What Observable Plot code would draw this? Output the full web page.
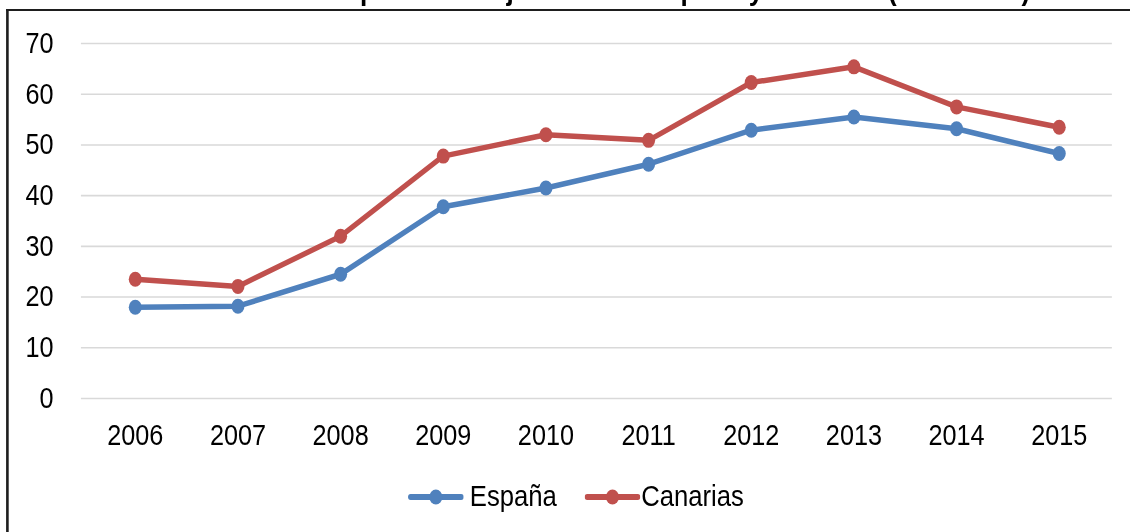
<!DOCTYPE html>
<html><head><meta charset="utf-8">
<script src="https://cdn.jsdelivr.net/npm/d3@7"></script>
<script src="https://cdn.jsdelivr.net/npm/@observablehq/plot@0.6"></script>
<style>
html,body{margin:0;padding:0;background:#fff;}
#page{position:relative;width:1130px;height:532px;overflow:hidden;background:#fff;}
#inner{position:absolute;left:0;top:0;width:1299px;height:532px;transform:scaleX(0.87);transform-origin:0 0;font-family:"Liberation Sans",Arial,sans-serif;}
#frame{position:absolute;left:7px;top:9px;width:1500px;height:700px;border-left:3px solid #1e1e1e;border-top:2px solid #1e1e1e;box-sizing:border-box;}
#title{position:absolute;left:296px;top:-25px;font-size:30px;line-height:30px;font-weight:bold;white-space:nowrap;color:#000;}
#chart{position:absolute;left:0;top:0;}
.leg{position:absolute;top:481px;height:30px;font-size:29.5px;line-height:30px;color:#000;white-space:nowrap;}
.legsw{position:absolute;top:488px;}
</style>
</head>
<body>
<div id="page"><div id="inner">
<div id="frame"></div>
<div id="title">Tasa de paro de los jóvenes en España y Canarias (2006-2015)</div>
<div id="chart"></div>
<div id="legend"></div>
</div></div>
<script>
const years = ["2006","2007","2008","2009","2010","2011","2012","2013","2014","2015"];
const espana = [18.0, 18.2, 24.5, 37.8, 41.5, 46.2, 52.9, 55.5, 53.2, 48.3];
const canarias = [23.5, 22.1, 32.0, 47.8, 52.0, 50.9, 62.3, 65.4, 57.5, 53.5];
const series = ["España", "Canarias"];
const colors = ["#4F81BD", "#C0504D"];
const yTicks = [0, 10, 20, 30, 40, 50, 60, 70];

const data = [];
years.forEach((yr, i) => {
  data.push({year: yr, serie: series[0], value: espana[i]});
  data.push({year: yr, serie: series[1], value: canarias[i]});
});

const chart = Plot.plot({
  width: 1299,
  height: 450,
  marginLeft: 93,
  marginRight: 21,
  marginTop: 43,
  marginBottom: 52,
  x: {type: "point", domain: years, padding: 0.5, label: null},
  y: {domain: [0, 70], label: null},
  color: {domain: series, range: colors},
  style: {fontSize: "29px", fontFamily: '"Liberation Sans", Arial, sans-serif', color: "#000", background: "transparent", overflow: "visible"},
  marks: [
    Plot.ruleY(yTicks, {stroke: "#d9d9d9", strokeWidth: 1.6}),
    Plot.line(data, {x: "year", y: "value", z: "serie", stroke: "serie", strokeWidth: 5.5, strokeLinejoin: "round", strokeLinecap: "round"}),
    Plot.dot(data, {x: "year", y: "value", fill: "serie", r: 7.5}),
    Plot.axisX({tickSize: 0, tickPadding: 26, label: null, fill: "#000"}),
    Plot.axisY({ticks: yTicks, tickSize: 0, tickPadding: 32, label: null, fill: "#000", tickFormat: d => String(d)})
  ]
});
document.getElementById("chart").appendChild(chart);

// legend
const legend = document.getElementById("legend");
const legPos = [{sw: 469, tx: 540}, {sw: 672, tx: 737}];
series.forEach((s, i) => {
  const p = legPos[i];
  const sw = document.createElementNS("http://www.w3.org/2000/svg", "svg");
  sw.setAttribute("class", "legsw");
  sw.setAttribute("width", 64);
  sw.setAttribute("height", 18);
  sw.style.left = p.sw + "px";
  sw.innerHTML = `<line x1="3" y1="9" x2="61" y2="9" stroke="${colors[i]}" stroke-width="6" stroke-linecap="round"/><circle cx="32" cy="9" r="7.5" fill="${colors[i]}"/>`;
  legend.appendChild(sw);
  const t = document.createElement("div");
  t.className = "leg";
  t.style.left = p.tx + "px";
  t.textContent = s;
  legend.appendChild(t);
});
</script>
</body></html>
